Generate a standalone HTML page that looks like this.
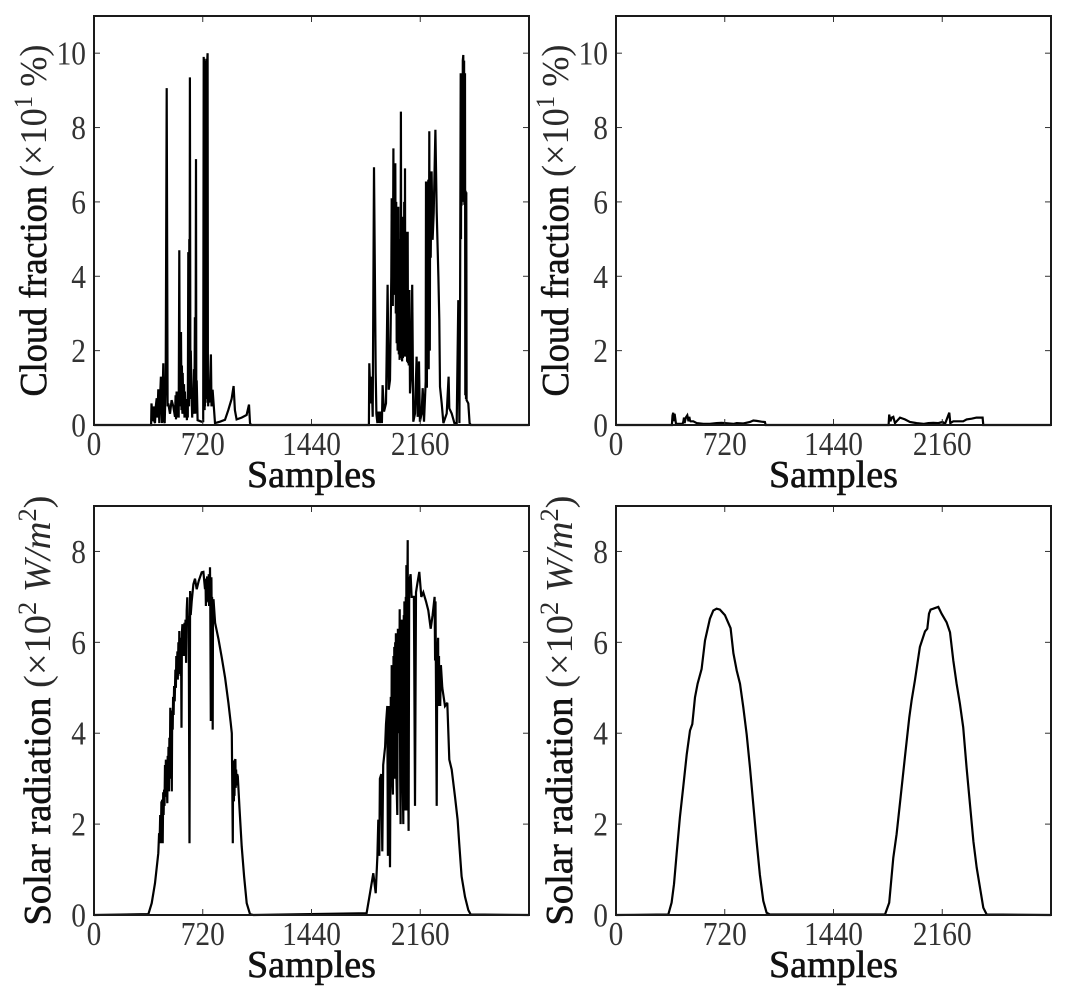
<!DOCTYPE html>
<html lang="en">
<head>
<meta charset="utf-8">
<title>Cloud fraction and solar radiation</title>
<style>
html,body{margin:0;padding:0;background:#fff;width:1068px;height:1000px;overflow:hidden}
svg{display:block}
text{font-family:"Liberation Serif",serif}
.tick{font-size:34px;fill:#333}
.label{font-size:38px;fill:#111;stroke:#111;stroke-width:.6px}
.mathit{font-style:italic}
</style>
</head>
<body>
<svg id="figure" xmlns="http://www.w3.org/2000/svg" width="1068" height="1000" viewBox="0 0 1068 1000"></svg>
<script>
// Chart data (samples on x, plotted units on y)
const xTicks = [0, 720, 1440, 2160];
const cloudTicks = [0, 2, 4, 6, 8, 10];
const solarTicks = [0, 2, 4, 6, 8];

const cloudLeftSamples = [0,378,381,386,390,393,397,400,404,409,415,420,426,432,437,443,450,455,459,464,468,475,481,487,492,503,514,525,536,540,543,547,552,558,561,565,568,571,573,576,579,582,585,587,592,596,599,602,607,611,615,618,621,624,626,628,629,631,633,635,638,641,646,650,653,657,662,665,668,670,673,675,677,680,686,712,723,726,728,730,732,734,735,737,739,740,742,743,745,746,748,749,750,751,752,754,756,759,763,768,774,778,785,801,834,867,889,911,924,933,944,977,1010,1026,1033,1040,1820,1823,1832,1838,1845,1854,1865,1870,1876,1880,1884,1889,1898,1902,1906,1911,1920,1933,1944,1951,1960,1968,1971,1973,1975,1978,1982,1985,1988,1991,1995,1998,2001,2004,2007,2010,2015,2018,2021,2023,2026,2029,2032,2035,2037,2040,2043,2045,2048,2051,2054,2057,2059,2061,2064,2067,2070,2073,2077,2079,2081,2084,2088,2092,2100,2107,2114,2125,2136,2143,2152,2158,2169,2176,2185,2196,2198,2200,2202,2204,2207,2210,2213,2216,2220,2223,2226,2229,2235,2242,2249,2260,2269,2280,2286,2291,2302,2313,2335,2348,2352,2368,2386,2401,2412,2419,2424,2428,2430,2432,2434,2436,2439,2442,2445,2448,2450,2452,2456,2458,2460,2463,2465,2467,2478,2487,2495,2880];
const cloudLeftValues = [0,0,.58,.3,.49,.1,.5,.1,.05,.5,.72,.2,.96,.05,.7,1.3,.05,.9,1.66,.1,.05,1.2,9.06,.5,.58,.3,.67,.5,.22,.8,.15,.9,.2,.6,.2,4.7,.6,2.5,.5,2.5,.4,1.6,.3,1.4,.3,1.1,.2,.9,.2,.7,.13,.5,.2,4.65,.5,4.6,.5,5,.8,9.35,.7,2,.76,.2,.9,.3,1.5,.3,2.9,.3,2.9,7.15,.3,1.2,.13,.09,.1,9.9,.5,9.85,.4,9.8,.5,9.8,.6,9.8,.7,9.8,.8,9.85,.9,9.8,1,9.9,10,1,.5,1,.6,1.1,1.9,.5,.95,.05,.09,.14,.4,.7,1.05,.4,.15,.2,.27,.55,.05,0,0,1.66,.58,1.3,.22,6.93,1.39,.3,.05,.36,.05,.36,.05,.36,.05,1.07,.36,.58,3.77,.95,1.21,4,6.1,3.5,5.5,3.2,7.44,3.5,5.5,4.08,7.04,3,6,2.2,5,2,5.87,1.9,4,1.75,5,1.8,8.43,1.8,5,1.71,5.6,1.8,5,1.84,6,1.9,6.9,1.84,5,1.9,5.2,1.7,5.2,1.66,3,1.6,3.63,.85,1.4,3.77,.09,.31,1.84,.22,1.71,.09,.31,.99,.09,1.17,6.55,1.2,6.55,1,6.5,1.5,6.6,1.5,7.9,2,6.8,4.5,6.82,4.98,5.7,7.94,5.74,3.97,2.83,1.03,.58,.05,.31,1.3,.45,.31,.05,.05,3.36,.05,3.4,9.46,5,9.4,5.9,9.37,6,9.8,9.95,6,9.8,5.92,9.46,.8,6.3,.7,6.26,.67,.58,.05,0,0];

const cloudRightSamples = [0,370,374,379,384,388,397,441,446,450,454,462,472,480,485,490,494,512,534,578,622,666,699,721,777,799,843,887,909,931,964,986,991,1805,1809,1817,1825,1836,1847,1858,1880,1913,1946,1990,2035,2068,2101,2134,2162,2178,2207,2213,2233,2240,2266,2299,2321,2354,2387,2427,2432,2880];
const cloudRightValues = [0,0,.25,.33,.1,.3,.03,.03,.1,.2,.05,.2,.26,.1,.22,.12,.1,.1,.05,.03,.03,.05,.06,.05,.03,.05,.04,.08,.12,.11,.09,.08,0,0,.28,.1,.2,.22,.05,.1,.2,.15,.08,.05,.03,.05,.06,.05,.08,.03,.33,.05,.1,.1,.1,.1,.15,.17,.2,.2,0,0];

const solarLeftSamples = [0,360,382,404,426,431,434,438,442,446,449,451,455,458,461,464,467,470,473,476,479,482,485,488,490,493,496,499,502,505,508,511,515,518,521,524,527,530,534,539,542,545,548,552,555,559,562,565,568,571,574,576,579,582,585,588,592,596,599,603,606,610,614,618,622,627,632,636,640,647,658,669,680,693,713,724,735,738,741,744,746,749,752,755,757,760,762,764,766,768,770,773,775,777,779,782,784,786,788,791,802,824,846,868,890,905,912,919,921,923,926,928,930,933,936,938,941,945,948,952,963,978,994,1011,1033,1055,1805,1827,1849,1865,1876,1882,1889,1893,1902,1909,1915,1927,1933,1942,1946,1953,1960,1965,1968,1971,1975,1979,1983,1985,1988,1991,1994,1997,1999,2003,2008,2012,2015,2017,2020,2024,2027,2030,2033,2036,2038,2041,2044,2048,2051,2053,2055,2058,2061,2064,2066,2068,2070,2072,2075,2077,2080,2083,2087,2090,2096,2103,2110,2118,2125,2132,2141,2154,2167,2180,2198,2213,2229,2242,2255,2258,2261,2264,2269,2272,2278,2281,2284,2286,2289,2292,2297,2306,2324,2339,2352,2368,2390,2407,2418,2434,2456,2478,2494,2880];
const solarLeftValues = [0,.02,.26,.7,1.36,1.8,1.6,2.2,1.58,2.5,2.0,2.54,1.58,2.7,2.2,2.76,2.4,3.3,2.9,3.42,2.6,2.9,2.46,3.5,2.9,3.7,2.72,3.9,3.0,4.56,3.3,4.4,2.72,4.5,4.08,4.8,4.4,5.04,4.7,5.4,5.0,5.7,5.2,5.8,5.18,6.0,5.3,6.25,5.5,6.0,5.26,6.1,4.12,6.2,6.4,5.8,6.3,5.7,6.43,5.9,6.5,5.55,6.7,6.99,6.5,6.58,1.58,7.13,6.6,6.9,7.28,7.4,7.17,7.35,7.54,7.55,7.17,7.4,6.8,7.4,6.88,7.45,6.9,7.4,6.9,7.5,6.8,7.1,6.8,7.65,6.8,4.27,7.3,7.43,6.6,7.0,6.4,4.08,6.8,6.95,6.43,6.07,5.66,5.22,4.67,4.23,4.0,1.58,3.4,3.27,2.5,3.3,2.62,3.4,3.43,2.8,3.2,2.85,3.1,3.05,2.35,1.51,.85,.26,.02,0,.04,.48,.92,.48,1.3,2.1,1.3,3.0,3.1,1.4,3.3,3.7,4.2,4.6,1.3,4.6,1.05,4.8,3,5.5,3,2.65,5.7,3.5,5.9,3,6,4,6.2,3,2.2,6.3,4,5.5,4,6.73,3,2.0,6.4,3,6.5,6.1,3,2.0,6.6,3,6.9,3,2.3,7,4,7.7,3,2.3,7.3,8.25,3,1.85,7.2,7.4,7.5,7.0,7.0,7.0,2.4,7.1,7.3,7.55,7.0,7.1,6.9,6.7,6.3,6.6,7.0,5.6,6.9,5.0,2.4,5.5,6.1,4.6,5.7,4.8,5.5,4.6,5.5,5.0,4.6,4.67,3.42,3.2,2.6,2.1,1.58,.85,.4,.11,.01,0];

const solarRightSamples = [0,346,368,384,401,423,445,468,490,505,523,540,567,589,622,644,666,688,721,759,777,799,821,843,865,887,909,931,953,975,997,1019,1781,1809,1836,1858,1884,1913,1942,1957,1979,2012,2046,2061,2072,2083,2101,2134,2156,2189,2211,2233,2255,2277,2299,2321,2344,2366,2388,2410,2432,2454,2880];
const solarRightValues = [0,.01,.27,.68,1.34,2.15,2.81,3.53,4.06,4.2,4.79,5.09,5.41,6.04,6.52,6.7,6.74,6.72,6.6,6.31,5.76,5.38,5.09,4.57,3.97,3.24,2.43,1.62,.88,.31,.05,.01,.01,.27,1.26,1.78,2.59,3.47,4.35,4.72,5.16,5.9,6.24,6.3,6.63,6.72,6.74,6.78,6.63,6.44,6.22,5.6,5.09,4.65,4.13,3.24,2.43,1.62,1.04,.6,.16,.01,0];

const SVGNS = 'http://www.w3.org/2000/svg';
const figure = document.getElementById('figure');

function make(parent, tag, attrs, txt) {
  const el = document.createElementNS(SVGNS, tag);
  for (const k in attrs) el.setAttribute(k, attrs[k]);
  if (txt !== undefined) el.textContent = txt;
  parent.appendChild(el);
  return el;
}

function drawAxes(cfg) {
  const g = make(figure, 'g', {});
  
  

  const xMax = 2880;
  const xScale = v => cfg.left + v / xMax * (cfg.right - cfg.left);
  const yScale = v => cfg.bottom - v / cfg.yMax * (cfg.bottom - cfg.top);

  const line = make(g, 'polyline', {
    points: cfg.samples.map((s, i) => xScale(s).toFixed(1) + ',' + yScale(cfg.values[i]).toFixed(1)).join(' '),
    fill: 'none', stroke: '#000', 'stroke-width': 2.2, 'stroke-linejoin': 'miter', 'stroke-miterlimit': 3
  });
  
  

  xTicks.forEach(t => {
    const x = xScale(t);
    const b = make(g, 'line', {x1: x, x2: x, y1: cfg.bottom, y2: cfg.bottom - 6, stroke: '#333', 'stroke-width': 1});
    
    
    const u = make(g, 'line', {x1: x, x2: x, y1: cfg.top, y2: cfg.top + 6, stroke: '#333', 'stroke-width': 1});
    
    
    const s = String(t);
    const lab = make(g, 'text', {class: 'tick', x: x, y: cfg.bottom + 30, 'text-anchor': 'middle', textLength: s.length * 14.7, lengthAdjust: 'spacingAndGlyphs'}, s);
    
    
  });

  cfg.yTicks.forEach(t => {
    const y = yScale(t);
    const l = make(g, 'line', {x1: cfg.left, x2: cfg.left + 6, y1: y, y2: y, stroke: '#333', 'stroke-width': 1});
    
    
    const r = make(g, 'line', {x1: cfg.right, x2: cfg.right - 6, y1: y, y2: y, stroke: '#333', 'stroke-width': 1});
    
    
    const s = String(t);
    const lab = make(g, 'text', {class: 'tick', x: cfg.left - 8, y: y + 11.5, 'text-anchor': 'end', textLength: s.length * 14.7, lengthAdjust: 'spacingAndGlyphs'}, s);
    
    
  });

  const frame = make(g, 'rect', {x: cfg.left, y: cfg.top, width: cfg.right - cfg.left, height: cfg.bottom - cfg.top, fill: 'none', stroke: '#1a1a1a', 'stroke-width': 2});
  
  

  const xt = make(g, 'text', {class: 'label', x: (cfg.left + cfg.right) / 2, y: cfg.bottom + 62, 'text-anchor': 'middle', textLength: 129, lengthAdjust: 'spacingAndGlyphs'}, 'Samples');
  
  

  const cy = (cfg.top + cfg.bottom) / 2;
  const yt = make(g, 'text', {class: 'label', transform: 'translate(' + (cfg.left - cfg.titleOffset) + ',' + cy + ') rotate(-90)', 'text-anchor': 'middle', textLength: cfg.titleLength, lengthAdjust: 'spacingAndGlyphs'});
  
  
  make(yt, 'tspan', {}, cfg.titleStart);
  make(yt, 'tspan', {style: 'stroke-width:0;fill:#2a2a2a'}, ' (×10');
  make(yt, 'tspan', {dy: -14, style: 'font-size:26px;stroke-width:0;fill:#2a2a2a'}, cfg.power);
  make(yt, 'tspan', {dy: 14, style: 'stroke-width:0;fill:#2a2a2a', class: cfg.unitItalic ? 'mathit' : ''}, cfg.unit);
  if (cfg.unitPower) {
    make(yt, 'tspan', {dy: -14, style: 'font-size:26px;stroke-width:0;fill:#2a2a2a'}, cfg.unitPower);
    make(yt, 'tspan', {dy: 14, style: 'stroke-width:0;fill:#2a2a2a'}, ')');
  } else {
    make(yt, 'tspan', {style: 'stroke-width:0;fill:#2a2a2a'}, ')');
  }
}

const cloudCommon = {top: 16, bottom: 425, yMax: 11, yTicks: cloudTicks, titleOffset: 48, titleLength: 352, titleStart: 'Cloud fraction', power: '1', unit: ' %', unitItalic: false, unitPower: ''};
const solarCommon = {top: 506, bottom: 915, yMax: 9, yTicks: solarTicks, titleOffset: 44, titleLength: 430, titleStart: 'Solar radiation', power: '2', unit: ' W/m', unitItalic: true, unitPower: '2'};

drawAxes(Object.assign({}, cloudCommon, {name: 'cloud-fraction-left-panel', left: 94, right: 529, samples: cloudLeftSamples, values: cloudLeftValues}));
drawAxes(Object.assign({}, cloudCommon, {name: 'cloud-fraction-right-panel', left: 616, right: 1051, samples: cloudRightSamples, values: cloudRightValues}));
drawAxes(Object.assign({}, solarCommon, {name: 'solar-radiation-left-panel', left: 94, right: 529, samples: solarLeftSamples, values: solarLeftValues}));
drawAxes(Object.assign({}, solarCommon, {name: 'solar-radiation-right-panel', left: 616, right: 1051, samples: solarRightSamples, values: solarRightValues}));
</script>
</body>
</html>
